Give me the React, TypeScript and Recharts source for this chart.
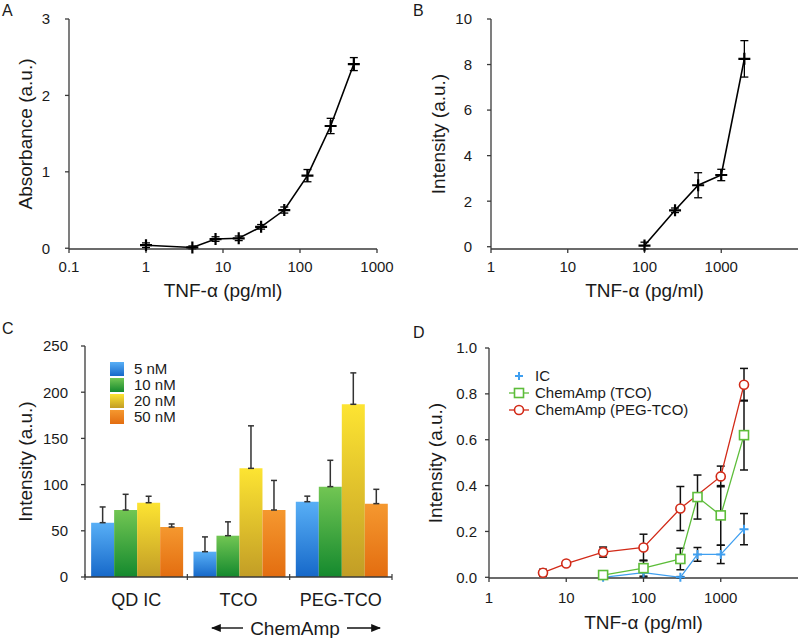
import React from 'react';
import { LineChart, Line, BarChart, Bar, XAxis, YAxis, ErrorBar, Label, Legend } from 'recharts';

// Panel A: ELISA absorbance vs TNF-α
const elisaConc = [1, 4, 8, 16, 31.25, 62.5, 125, 250, 500];
const elisaAbs = [0.04, 0.01, 0.12, 0.13, 0.28, 0.5, 0.95, 1.6, 2.41];
const elisaErr = [0.03, 0.02, 0.03, 0.03, 0.03, 0.04, 0.08, 0.1, 0.085];

// Panel B: QD immunoassay intensity
const qdConc = [100, 250, 500, 1000, 2000];
const qdInt = [0.05, 1.6, 2.7, 3.15, 8.25];
const qdErr = [0.15, 0.1, 0.55, 0.25, 0.8];

// Panel C: bar groups by probe concentration
const groups = ['QD IC', 'TCO', 'PEG-TCO'];
const doses = ['5 nM', '10 nM', '20 nM', '50 nM'];
const nm5 = [58.8, 27.4, 81.5];
const nm10 = [72.5, 44.7, 97.8];
const nm20 = [80.4, 117.6, 186.9];
const nm50 = [54.1, 72.5, 79.4];
const nm5Err = [17, 16, 6];
const nm10Err = [17, 15, 28.5];
const nm20Err = [7, 46, 34];
const nm50Err = [3.3, 32, 15.5];

// Panel D: three assays
const icConc = [30, 100, 300, 500, 1000, 2000];
const icInt = [0.0, 0.02, 0.0, 0.1, 0.1, 0.21];
const icErr = [0.003, 0.02, 0.003, 0.03, 0.04, 0.068];
const tcoConc = [30, 100, 300, 500, 1000, 2000];
const tcoInt = [0.01, 0.04, 0.08, 0.35, 0.27, 0.62];
const tcoErr = [0.005, 0.035, 0.047, 0.096, 0.13, 0.152];
const pegConc = [5, 10, 30, 100, 300, 1000, 2000];
const pegInt = [0.02, 0.06, 0.11, 0.13, 0.3, 0.44, 0.84];
const pegErr = [0.015, 0.007, 0.022, 0.058, 0.096, 0.045, 0.071];

const FONT = '"Liberation Sans", Arial, sans-serif';
const AXIS = '#3a3a3a';
const TXT = '#1a1a1a';
const tickStyle = { fontSize: 15, fill: TXT, fontFamily: FONT };
const titleStyle = { fontSize: 19, fill: TXT, fontFamily: FONT, textAnchor: 'middle' as const };

const elisaData = elisaConc.map((x, i) => ({ x, y: elisaAbs[i], err: elisaErr[i] }));
const qdData = qdConc.map((x, i) => ({ x, y: qdInt[i], err: qdErr[i] }));
const barData = groups.map((g, i) => ({
  group: g,
  '5 nM': nm5[i], e5: [0, nm5Err[i]],
  '10 nM': nm10[i], e10: [0, nm10Err[i]],
  '20 nM': nm20[i], e20: [0, nm20Err[i]],
  '50 nM': nm50[i], e50: [0, nm50Err[i]],
}));
const icData = icConc.map((x, i) => ({ x, y: icInt[i], err: icErr[i] }));
const tcoData = tcoConc.map((x, i) => ({ x, y: tcoInt[i], err: tcoErr[i] }));
const pegData = pegConc.map((x, i) => ({ x, y: pegInt[i], err: pegErr[i] }));

const barColors = [
  ['#58aff6', '#1668c9'],
  ['#72c653', '#14892e'],
  ['#fde432', '#c29d26'],
  ['#f5982f', '#e36d10'],
];
const errKeys = ['e5', 'e10', 'e20', 'e50'];

const Cross = (p: any) => {
  const { cx, cy, s = 6, stroke = '#000', sw = 2 } = p;
  if (cx == null || cy == null) return null;
  return (
    <path
      d={`M${cx - s},${cy}H${cx + s}M${cx},${cy - s}V${cy + s}`}
      stroke={stroke}
      strokeWidth={sw}
      fill="none"
    />
  );
};

const SquareDot = (p: any) => {
  const { cx, cy, stroke } = p;
  if (cx == null) return null;
  return <rect x={cx - 4.5} y={cy - 4.5} width={9} height={9} fill="#fff" stroke={stroke} strokeWidth={1.6} />;
};

const CircleDot = (p: any) => {
  const { cx, cy, stroke } = p;
  if (cx == null) return null;
  return <circle cx={cx} cy={cy} r={4.5} fill="#fff" stroke={stroke} strokeWidth={1.6} />;
};

// category axis: label in the band centre, ticks at band boundaries (Excel style)
const BAND = 307 / 3;
const GroupTick = (p: any) => {
  const { x, y, payload, index } = p;
  const ay = y - 16;
  return (
    <g>
      <line x1={x - BAND / 2} x2={x - BAND / 2} y1={ay - 3} y2={ay + 3} stroke={AXIS} strokeWidth={1.2} />
      {index === groups.length - 1 && (
        <line x1={x + BAND / 2} x2={x + BAND / 2} y1={ay - 3} y2={ay + 3} stroke={AXIS} strokeWidth={1.2} />
      )}
      <text x={x} y={y} dy="0.71em" textAnchor="middle" fontSize={18} fill={TXT} fontFamily={FONT}>
        {payload.value}
      </text>
    </g>
  );
};

const BarLegend = () => (
  <div style={{ fontFamily: FONT, fontSize: 15, color: TXT, lineHeight: '16px' }}>
    {doses.map((d, i) => (
      <div key={d} style={{ display: 'flex', alignItems: 'center', height: 16 }}>
        <svg width={14} height={14} style={{ marginRight: 10 }}>
          <rect x={0} y={0} width={14} height={14} fill={`url(#grad${i})`} />
        </svg>
        <span>{d}</span>
      </div>
    ))}
  </div>
);

const lineLegendItems = [
  { name: 'IC', color: '#3f9ff0', kind: 'cross' },
  { name: 'ChemAmp (TCO)', color: '#5dbd3a', kind: 'square' },
  { name: 'ChemAmp (PEG-TCO)', color: '#d22a18', kind: 'circle' },
];

const LineLegend = () => (
  <div style={{ fontFamily: FONT, fontSize: 15, color: TXT }}>
    {lineLegendItems.map((it) => (
      <div key={it.name} style={{ display: 'flex', alignItems: 'center', height: 17 }}>
        <svg width={20} height={14} style={{ marginRight: 6 }}>
          {it.kind !== 'cross' && <line x1={0} x2={20} y1={7} y2={7} stroke={it.color} strokeWidth={1.3} />}
          {it.kind === 'cross' && <Cross cx={10} cy={7} s={4} stroke={it.color} sw={2} />}
          {it.kind === 'square' && <SquareDot cx={10} cy={7} stroke={it.color} />}
          {it.kind === 'circle' && <CircleDot cx={10} cy={7} stroke={it.color} />}
        </svg>
        <span>{it.name}</span>
      </div>
    ))}
  </div>
);

const abs = (l: number, t: number): React.CSSProperties => ({ position: 'absolute', left: l, top: t });

export default function App() {
  return (
    <div style={{ position: 'absolute', left: 0, top: 0, width: 800, height: 638, background: '#fff', fontFamily: FONT }}>
      {/* A */}
      <div style={abs(0, 0)}>
        <LineChart width={400} height={310} data={elisaData} margin={{ top: 19, right: 23, bottom: 0, left: 0 }}>
          <XAxis
            dataKey="x"
            type="number"
            scale="log"
            domain={[0.1, 1000]}
            ticks={[0.1, 1, 10, 100, 1000]}
            allowDataOverflow
            height={61}
            stroke={AXIS}
            strokeWidth={1.3}
            tickSize={4}
            tickMargin={8}
            tick={tickStyle}
          >
            <Label value="TNF-α (pg/ml)" position="insideBottom" offset={13} style={titleStyle} />
          </XAxis>
          <YAxis
            type="number"
            domain={[0, 3]}
            ticks={[0, 1, 2, 3]}
            width={69}
            stroke={AXIS}
            strokeWidth={1.3}
            tickSize={4}
            tickMargin={15}
            tick={tickStyle}
          >
            <Label value="Absorbance (a.u.)" angle={-90} position="insideLeft" offset={25} style={titleStyle} />
          </YAxis>
          <Line
            dataKey="y"
            stroke="#000"
            strokeWidth={1.6}
            isAnimationActive={false}
            dot={(p: any) => <Cross key={p.index} cx={p.cx} cy={p.cy} s={6} sw={2.2} />}
          >
            <ErrorBar dataKey="err" direction="y" width={4} stroke="#000" strokeWidth={1.3} />
          </Line>
        </LineChart>
      </div>

      {/* B */}
      <div style={abs(400, 0)}>
        <LineChart width={400} height={310} data={qdData} margin={{ top: 19, right: 2, bottom: 0, left: 0 }}>
          <XAxis
            dataKey="x"
            type="number"
            scale="log"
            domain={[1, 10000]}
            ticks={[1, 10, 100, 1000]}
            allowDataOverflow
            height={61}
            stroke={AXIS}
            strokeWidth={1.3}
            tickSize={4}
            tickMargin={8}
            tick={tickStyle}
          >
            <Label value="TNF-α (pg/ml)" position="insideBottom" offset={13} style={titleStyle} />
          </XAxis>
          <YAxis
            type="number"
            domain={[0, 10]}
            ticks={[0, 2, 4, 6, 8, 10]}
            width={91}
            stroke={AXIS}
            strokeWidth={1.3}
            tickSize={4}
            tickMargin={15}
            tick={tickStyle}
          >
            <Label value="Intensity (a.u.)" angle={-90} position="insideLeft" offset={38} style={titleStyle} />
          </YAxis>
          <Line
            dataKey="y"
            stroke="#000"
            strokeWidth={1.6}
            isAnimationActive={false}
            dot={(p: any) => <Cross key={p.index} cx={p.cx} cy={p.cy} s={6} sw={2.2} />}
          >
            <ErrorBar dataKey="err" direction="y" width={4} stroke="#000" strokeWidth={1.3} />
          </Line>
        </LineChart>
      </div>

      {/* C */}
      <div style={abs(0, 310)}>
        <BarChart
          width={400}
          height={328}
          data={barData}
          margin={{ top: 36, right: 8, bottom: 0, left: 0 }}
          barCategoryGap="6%"
          barGap={0}
        >
          <defs>
            {barColors.map((c, i) => (
              <linearGradient key={i} id={`grad${i}`} x1="0" y1="0" x2="0" y2="1">
                <stop offset="0%" stopColor={c[0]} />
                <stop offset="100%" stopColor={c[1]} />
              </linearGradient>
            ))}
          </defs>
          <XAxis
            dataKey="group"
            height={61}
            stroke={AXIS}
            strokeWidth={1.3}
            tickLine={false}
            tickSize={0}
            tickMargin={16}
            tick={<GroupTick />}
            interval={0}
          />
          <YAxis
            type="number"
            domain={[0, 250]}
            ticks={[0, 50, 100, 150, 200, 250]}
            width={85}
            stroke={AXIS}
            strokeWidth={1.3}
            tickSize={4}
            tickMargin={13}
            tick={tickStyle}
          >
            <Label value="Intensity (a.u.)" angle={-90} position="insideLeft" offset={25} style={titleStyle} />
          </YAxis>
          <Legend
            content={<BarLegend />}
            layout="vertical"
            align="center"
            verticalAlign="middle"
            wrapperStyle={{ top: 51, left: 110, width: 'auto', height: 'auto' }}
          />
          {doses.map((d, i) => (
            <Bar key={d} dataKey={d} fill={`url(#grad${i})`} isAnimationActive={false}>
              <ErrorBar dataKey={errKeys[i]} direction="y" width={3} stroke="#333" strokeWidth={1.5} />
            </Bar>
          ))}
        </BarChart>
      </div>

      {/* D */}
      <div style={abs(400, 310)}>
        <LineChart width={400} height={328} margin={{ top: 38, right: 2, bottom: 0, left: 0 }}>
          <XAxis
            dataKey="x"
            type="number"
            scale="log"
            domain={[1, 10000]}
            ticks={[1, 10, 100, 1000]}
            allowDataOverflow
            height={60}
            stroke={AXIS}
            strokeWidth={1.3}
            tickSize={4}
            tickMargin={10}
            tick={tickStyle}
          >
            <Label value="TNF-α (pg/ml)" position="insideBottom" offset={9} style={titleStyle} />
          </XAxis>
          <YAxis
            type="number"
            domain={[0, 1]}
            ticks={[0, 0.2, 0.4, 0.6, 0.8, 1]}
            tickFormatter={(v: number) => v.toFixed(1)}
            width={89}
            stroke={AXIS}
            strokeWidth={1.3}
            tickSize={4}
            tickMargin={8}
            tick={tickStyle}
          >
            <Label value="Intensity (a.u.)" angle={-90} position="insideLeft" offset={35} style={titleStyle} />
          </YAxis>
          <Legend
            content={<LineLegend />}
            layout="vertical"
            align="center"
            verticalAlign="middle"
            wrapperStyle={{ top: 57, left: 109, width: 'auto', height: 'auto' }}
          />
          <Line
            data={icData}
            dataKey="y"
            stroke="#3f9ff0"
            strokeWidth={1.3}
            isAnimationActive={false}
            dot={(p: any) => <Cross key={p.index} cx={p.cx} cy={p.cy} s={4.5} sw={2} stroke="#3f9ff0" />}
          >
            <ErrorBar dataKey="err" direction="y" width={4} stroke="#111" strokeWidth={1.5} />
          </Line>
          <Line
            data={tcoData}
            dataKey="y"
            stroke="#5dbd3a"
            strokeWidth={1.3}
            isAnimationActive={false}
            dot={(p: any) => <SquareDot key={p.index} cx={p.cx} cy={p.cy} stroke="#5dbd3a" />}
          >
            <ErrorBar dataKey="err" direction="y" width={4} stroke="#111" strokeWidth={1.5} />
          </Line>
          <Line
            data={pegData}
            dataKey="y"
            stroke="#d22a18"
            strokeWidth={1.3}
            isAnimationActive={false}
            dot={(p: any) => <CircleDot key={p.index} cx={p.cx} cy={p.cy} stroke="#d22a18" />}
          >
            <ErrorBar dataKey="err" direction="y" width={4} stroke="#111" strokeWidth={1.5} />
          </Line>
        </LineChart>
      </div>

      {/* panel letters and ChemAmp annotation */}
      <svg width={800} height={638} style={{ position: 'absolute', left: 0, top: 0, pointerEvents: 'none' }}>
        <defs>
          <marker id="arrowHead" viewBox="0 0 10 10" refX="9" refY="5" markerWidth="7" markerHeight="7" orient="auto-start-reverse">
            <path d="M0,1 L10,5 L0,9 z" fill="#111" />
          </marker>
        </defs>
        <g fontFamily={FONT} fontSize={16} fill={TXT}>
          <text x={2} y={16}>A</text>
          <text x={413} y={16}>B</text>
          <text x={2} y={334}>C</text>
          <text x={413} y={338}>D</text>
        </g>
        <line x1={243} y1={628} x2={212} y2={628} stroke="#111" strokeWidth={1.4} markerEnd="url(#arrowHead)" />
        <line x1={347} y1={628} x2={380} y2={628} stroke="#111" strokeWidth={1.4} markerEnd="url(#arrowHead)" />
        <text x={295} y={635} textAnchor="middle" fontFamily={FONT} fontSize={19} fill={TXT}>ChemAmp</text>
      </svg>
    </div>
  );
}
